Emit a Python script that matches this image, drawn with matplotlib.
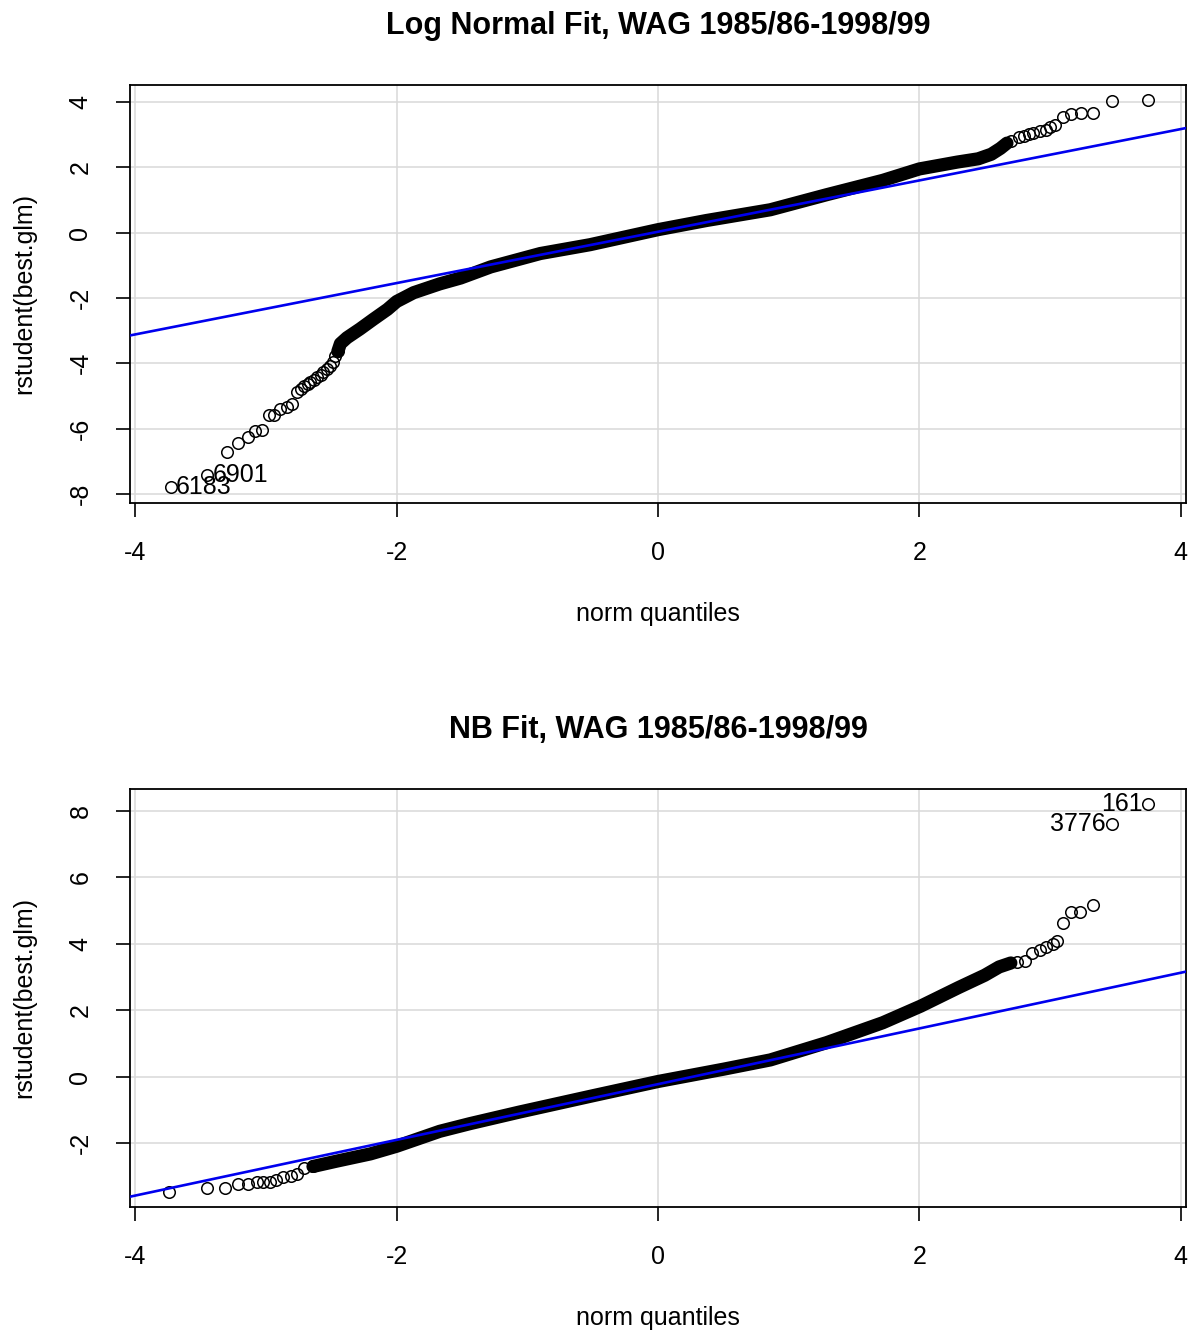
import matplotlib.pyplot as plt

plt.rcParams['font.family'] = ['Liberation Sans', 'DejaVu Sans']
plt.rcParams['axes.unicode_minus'] = False

# ---- Log Normal panel ----
ln_tail_lo_x = [-3.73, -3.45, -3.30, -3.21, -3.14, -3.08, -3.03, -2.98, -2.94, -2.89,
                -2.84, -2.80, -2.76, -2.73, -2.71, -2.68, -2.66, -2.63, -2.61, -2.58,
                -2.56, -2.53, -2.51, -2.49, -2.47, -2.45]
ln_tail_lo_y = [-7.80, -7.43, -6.73, -6.45, -6.27, -6.09, -6.05, -5.60, -5.57, -5.41,
                -5.35, -5.26, -4.89, -4.80, -4.71, -4.65, -4.59, -4.50, -4.43, -4.35,
                -4.28, -4.18, -4.10, -3.95, -3.79, -3.64]
ln_band_x = [-2.45, -2.43, -2.38, -2.28, -2.18, -2.07, -2.00, -1.87, -1.67, -1.51, -1.28,
             -0.90, -0.52, 0.00, 0.37, 0.86, 1.29, 1.72, 2.00, 2.29, 2.45, 2.55, 2.62, 2.67]
ln_band_y = [-3.64, -3.40, -3.22, -2.95, -2.66, -2.35, -2.11, -1.84, -1.57, -1.39, -1.05,
             -0.64, -0.37, 0.09, 0.37, 0.70, 1.16, 1.60, 1.95, 2.16, 2.26, 2.40, 2.58, 2.74]
ln_tail_hi_x = [2.70, 2.76, 2.80, 2.84, 2.87, 2.92, 2.97, 3.00, 3.04, 3.10, 3.16, 3.24,
                3.33, 3.47, 3.75]
ln_tail_hi_y = [2.80, 2.93, 2.97, 3.02, 3.05, 3.10, 3.15, 3.22, 3.30, 3.54, 3.63, 3.66,
                3.66, 4.02, 4.07]
ln_line = (0.026, 0.786)  # intercept, slope
ln_labels = [("6183", -3.73, -7.80), ("6901", -3.45, -7.43)]

# ---- NB panel ----
nb_tail_lo_x = [-3.74, -3.45, -3.31, -3.21, -3.14, -3.07, -3.02, -2.97, -2.92, -2.87,
                -2.81, -2.76, -2.71, -2.64]
nb_tail_lo_y = [-3.47, -3.35, -3.35, -3.24, -3.23, -3.19, -3.18, -3.17, -3.11, -3.04,
                -3.01, -2.93, -2.76, -2.71]
nb_band_x = [-2.64, -2.46, -2.20, -2.00, -1.67, -1.44, -1.06, -0.50, 0.00, 0.50, 0.86,
             1.29, 1.72, 2.01, 2.30, 2.50, 2.61, 2.70]
nb_band_y = [-2.71, -2.55, -2.33, -2.10, -1.65, -1.42, -1.07, -0.58, -0.15, 0.22, 0.50,
             1.02, 1.62, 2.12, 2.68, 3.05, 3.30, 3.42]
nb_tail_hi_x = [2.75, 2.81, 2.86, 2.92, 2.97, 3.02, 3.05, 3.10, 3.16, 3.23, 3.33, 3.47, 3.75]
nb_tail_hi_y = [3.45, 3.47, 3.71, 3.81, 3.91, 3.98, 4.09, 4.61, 4.96, 4.96, 5.17, 7.62, 8.20]
nb_line = (-0.23, 0.839)
nb_labels = [("161", 3.75, 8.20), ("3776", 3.47, 7.62)]

x_ticks = [-4, -2, 0, 2, 4]

fig = plt.figure(figsize=(11.93, 13.31), dpi=100)
ax1 = fig.add_axes([130 / 1193, 1 - 503 / 1331, 1056 / 1193, 418 / 1331])
ax2 = fig.add_axes([130 / 1193, 1 - 1207 / 1331, 1056 / 1193, 418 / 1331])


def qq_panel(ax, lo_x, lo_y, band_x, band_y, hi_x, hi_y, line, labels, ylim, yticks, title,
             label_side):
    ax.grid(True, color='#d9d9d9', linewidth=1.1, zorder=0)
    ax.plot(band_x, band_y, color='black', linewidth=9.5, solid_capstyle='round',
            solid_joinstyle='round', zorder=2)
    circ = dict(linestyle='none', marker='o', markersize=8.3, markerfacecolor='none',
                markeredgecolor='black', markeredgewidth=1.1, zorder=3)
    ax.plot(lo_x, lo_y, **circ)
    ax.plot(hi_x, hi_y, **circ)
    b0, b1 = line
    xl = (-4.04, 4.04)
    ax.plot(xl, [b0 + b1 * v for v in xl], color='#0000ee', linewidth=1.9, zorder=4)
    for txt, px, py in labels:
        if label_side == 'right':
            ax.annotate(txt, (px, py), xytext=(4, 0), textcoords='offset points',
                        ha='left', va='center', fontsize=18, zorder=5)
        else:
            ax.annotate(txt, (px, py), xytext=(-4, 0), textcoords='offset points',
                        ha='right', va='center', fontsize=18, zorder=5)
    ax.set_xlim(-4.04, 4.04)
    ax.set_ylim(*ylim)
    ax.set_xticks(x_ticks)
    ax.set_yticks(yticks)
    ax.tick_params(axis='both', length=10, width=1.2, labelsize=18, pad=17)
    for lab in ax.get_yticklabels():
        lab.set_rotation(90)
        lab.set_va('center')
    for s in ax.spines.values():
        s.set_linewidth(1.3)
    ax.set_xlabel('norm quantiles', fontsize=18, labelpad=27)
    ax.set_ylabel('rstudent(best.glm)', fontsize=18, labelpad=23)
    ax.set_title(title, fontsize=22, fontweight='bold', pad=37)


qq_panel(ax1, ln_tail_lo_x, ln_tail_lo_y, ln_band_x, ln_band_y, ln_tail_hi_x, ln_tail_hi_y,
         ln_line, ln_labels, (-8.28, 4.52), [-8, -6, -4, -2, 0, 2, 4],
         'Log Normal Fit, WAG 1985/86-1998/99', 'right')
qq_panel(ax2, nb_tail_lo_x, nb_tail_lo_y, nb_band_x, nb_band_y, nb_tail_hi_x, nb_tail_hi_y,
         nb_line, nb_labels, (-3.93, 8.66), [-2, 0, 2, 4, 6, 8],
         'NB Fit, WAG 1985/86-1998/99', 'left')

fig.savefig('out.png', dpi=100)
